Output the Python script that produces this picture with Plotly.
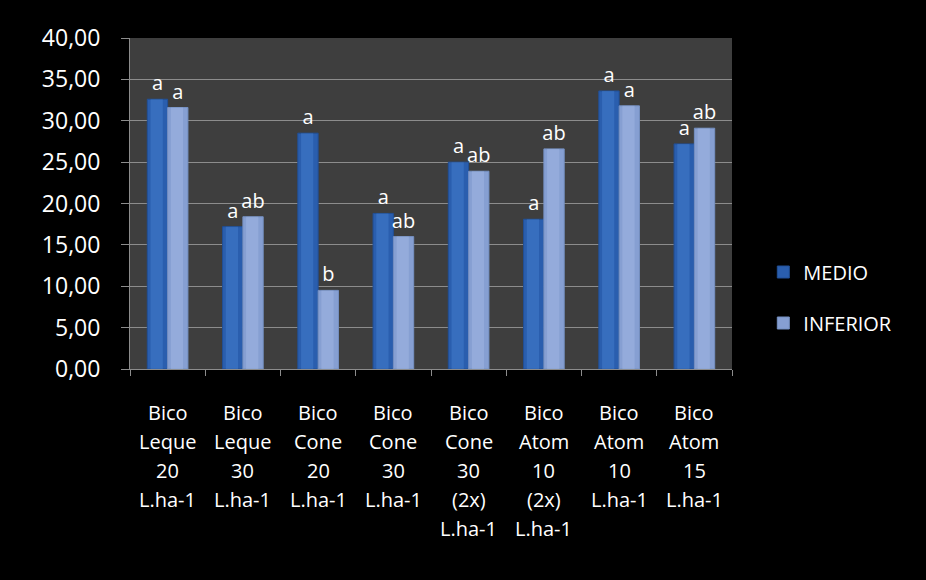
import plotly.graph_objects as go

categories = ["Bico Leque 20 L.ha-1", "Bico Leque 30 L.ha-1", "Bico Cone 20 L.ha-1",
              "Bico Cone 30 L.ha-1", "Bico Cone 30 (2x) L.ha-1", "Bico Atom 10 (2x) L.ha-1",
              "Bico Atom 10 L.ha-1", "Bico Atom 15 L.ha-1"]
label_lines = [
    ["Bico", "Leque", "20", "L.ha-1"],
    ["Bico", "Leque", "30", "L.ha-1"],
    ["Bico", "Cone", "20", "L.ha-1"],
    ["Bico", "Cone", "30", "L.ha-1"],
    ["Bico", "Cone", "30", "(2x)", "L.ha-1"],
    ["Bico", "Atom", "10", "(2x)", "L.ha-1"],
    ["Bico", "Atom", "10", "L.ha-1"],
    ["Bico", "Atom", "15", "L.ha-1"],
]
medio = [32.6, 17.2, 28.5, 18.8, 25.0, 18.1, 33.6, 27.2]
inferior = [31.6, 18.4, 9.5, 16.0, 23.9, 26.6, 31.8, 29.1]
medio_letters = ["a", "a", "a", "a", "a", "a", "a", "a"]
inferior_letters = ["a", "ab", "b", "ab", "ab", "ab", "a", "ab"]
y_ticks = [0, 5, 10, 15, 20, 25, 30, 35, 40]

FONT = "Open Sans"
BW = 0.27  # bar width in category units

fig = go.Figure()
fig.add_trace(go.Bar(
    name="MEDIO", x=categories, y=medio, text=medio_letters,
    width=BW, offset=-BW,
    textposition="outside", cliponaxis=False, constraintext="none",
    textfont=dict(color="white", size=20, family=FONT),
    marker=dict(color="#2a5eae", line=dict(color="#214f96", width=1)),
    legendgroup="m",
))
fig.add_trace(go.Bar(
    name="INFERIOR", x=categories, y=inferior, text=inferior_letters,
    width=BW, offset=0,
    textposition="outside", cliponaxis=False, constraintext="none",
    textfont=dict(color="white", size=20, family=FONT),
    marker=dict(color="#869fd2", line=dict(color="#7590c2", width=1)),
    legendgroup="i",
))
# cylinder highlight (same data, narrower, lighter)
fig.add_trace(go.Bar(
    x=categories, y=medio, width=BW * 0.6, offset=-BW + BW * 0.16,
    marker=dict(color="rgba(75,135,215,0.4)", line=dict(width=0)),
    showlegend=False, hoverinfo="skip",
))
fig.add_trace(go.Bar(
    x=categories, y=inferior, width=BW * 0.6, offset=BW * 0.16,
    marker=dict(color="rgba(170,190,232,0.4)", line=dict(width=0)),
    showlegend=False, hoverinfo="skip",
))

# multi-line category labels, one text line per annotation
line_y0 = 412
line_step = 29
plot_top, plot_bottom = 38, 369
for cat, lines in zip(categories, label_lines):
    for i, ln in enumerate(lines):
        ypix = line_y0 + i * line_step
        fig.add_annotation(
            x=cat, xref="x",
            y=(plot_bottom - ypix) / (plot_bottom - plot_top), yref="paper",
            text=ln, showarrow=False, xanchor="center", yanchor="middle",
            font=dict(color="white", size=20, family=FONT),
        )

fig.update_layout(
    width=926, height=580,
    margin=dict(l=130, r=194, t=38, b=211),
    paper_bgcolor="black",
    plot_bgcolor="#3e3e3e",
    separators=",.",
    barmode="overlay",
    showlegend=True,
    legend=dict(
        x=1.052, xanchor="left", y=0.216, yanchor="middle",
        font=dict(color="white", size=20, family=FONT),
        bgcolor="rgba(0,0,0,0)", tracegroupgap=22,
    ),
    xaxis=dict(
        type="category", showticklabels=False,
        ticks="outside", tickson="boundaries", ticklen=6, tickcolor="#8c8c8c",
        showline=True, linecolor="#8c8c8c", linewidth=1,
        showgrid=False,
    ),
    yaxis=dict(
        range=[0, 40], tickvals=y_ticks, tickformat=".2f",
        ticks="outside", ticklen=8, tickcolor="#8c8c8c",
        ticklabelstandoff=16,
        showline=True, linecolor="#8c8c8c", linewidth=1,
        showgrid=True, gridcolor="#8c8c8c", gridwidth=1,
        zeroline=False,
        tickfont=dict(color="white", size=23, family=FONT),
    ),
)

fig.write_html("out.html")
